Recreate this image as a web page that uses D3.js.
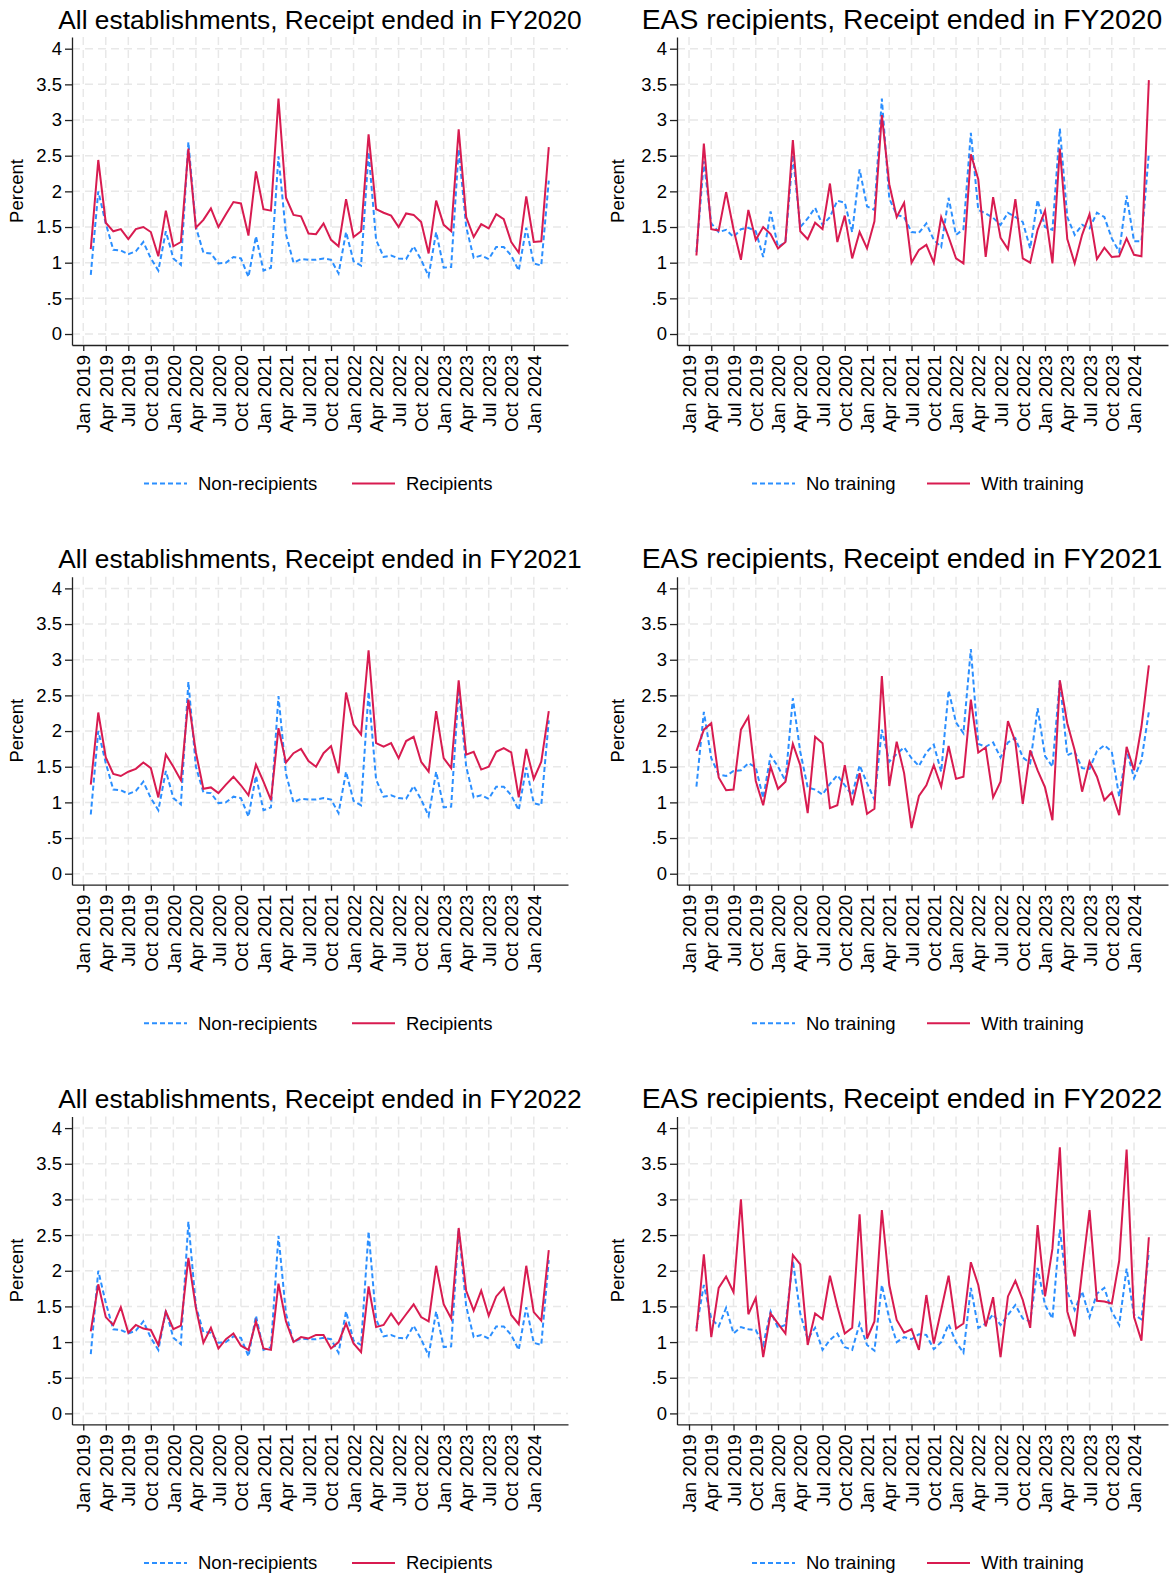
<!DOCTYPE html>
<html>
<head>
<meta charset="utf-8">
<script src="https://cdn.jsdelivr.net/npm/d3@7"></script>
<style>
  body { margin: 0; background: #fff; }
  svg { display: block; font-family: "Liberation Sans", Arial, Helvetica, sans-serif; }
</style>
</head>
<body>
<svg id="chart" width="1170" height="1576"></svg>
<script>
// months are counted from Jan 2019 = 0; data runs Feb 2019 (1) .. Mar 2024 (62)
const monthIndex = d3.range(1, 63);
const xTickMonths = d3.range(0, 61, 3);
const yTicks = [0, 0.5, 1, 1.5, 2, 2.5, 3, 3.5, 4];

// All establishments: non-recipients (same in every FY panel)
const nonRecipients = [0.83, 2.00, 1.55, 1.18, 1.17, 1.12, 1.16, 1.29, 1.06, 0.89, 1.44, 1.06, 0.97, 2.69, 1.50, 1.14,
  1.13, 0.99, 1.00, 1.08, 1.06, 0.80, 1.37, 0.89, 0.93, 2.49, 1.40, 1.00, 1.05, 1.04, 1.04, 1.06,
  1.04, 0.85, 1.43, 1.02, 0.96, 2.55, 1.32, 1.08, 1.10, 1.06, 1.05, 1.23, 1.04, 0.81, 1.43, 0.93,
  0.94, 2.59, 1.50, 1.07, 1.10, 1.05, 1.22, 1.22, 1.10, 0.89, 1.49, 0.99, 0.96, 2.15];

const recipientsFY2020 = [1.19, 2.44, 1.56, 1.44, 1.47, 1.33, 1.47, 1.50, 1.43, 1.09, 1.73, 1.23, 1.29, 2.60, 1.49, 1.60,
  1.76, 1.50, 1.68, 1.85, 1.83, 1.38, 2.28, 1.75, 1.73, 3.30, 1.91, 1.67, 1.65, 1.41, 1.40, 1.55,
  1.32, 1.23, 1.89, 1.36, 1.44, 2.80, 1.75, 1.70, 1.66, 1.50, 1.69, 1.67, 1.57, 1.13, 1.87, 1.53,
  1.44, 2.87, 1.64, 1.36, 1.54, 1.48, 1.68, 1.61, 1.29, 1.14, 1.93, 1.29, 1.30, 2.62];

const recipientsFY2021 = [1.25, 2.26, 1.63, 1.40, 1.37, 1.43, 1.47, 1.56, 1.48, 1.07, 1.67, 1.50, 1.31, 2.44, 1.70, 1.19,
  1.21, 1.13, 1.25, 1.36, 1.24, 1.10, 1.53, 1.29, 1.03, 2.04, 1.56, 1.69, 1.75, 1.58, 1.50, 1.69,
  1.79, 1.41, 2.54, 2.09, 1.95, 3.13, 1.83, 1.78, 1.83, 1.62, 1.86, 1.92, 1.57, 1.43, 2.28, 1.62,
  1.48, 2.71, 1.67, 1.71, 1.46, 1.50, 1.71, 1.76, 1.70, 1.07, 1.75, 1.33, 1.57, 2.28];

const recipientsFY2022 = [1.15, 1.81, 1.35, 1.24, 1.49, 1.13, 1.24, 1.19, 1.17, 0.96, 1.43, 1.18, 1.23, 2.18, 1.48, 0.99,
  1.20, 0.91, 1.04, 1.12, 0.95, 0.89, 1.29, 0.91, 0.89, 1.82, 1.29, 1.00, 1.07, 1.05, 1.10, 1.10,
  0.91, 1.00, 1.26, 0.98, 0.86, 1.78, 1.21, 1.24, 1.40, 1.25, 1.39, 1.53, 1.35, 1.29, 2.07, 1.53,
  1.33, 2.60, 1.72, 1.44, 1.72, 1.37, 1.64, 1.76, 1.38, 1.25, 2.07, 1.42, 1.30, 2.29];

// EAS recipients: without / with training
const noTrainingFY2020 = [1.15, 2.42, 1.55, 1.43, 1.46, 1.36, 1.47, 1.49, 1.44, 1.08, 1.72, 1.22, 1.29, 2.51, 1.50, 1.62,
  1.77, 1.53, 1.64, 1.87, 1.84, 1.43, 2.31, 1.79, 1.74, 3.30, 1.90, 1.67, 1.64, 1.43, 1.42, 1.55,
  1.32, 1.22, 1.91, 1.39, 1.47, 2.82, 1.74, 1.69, 1.63, 1.53, 1.70, 1.64, 1.57, 1.20, 1.88, 1.50,
  1.46, 2.88, 1.64, 1.39, 1.53, 1.48, 1.70, 1.64, 1.34, 1.15, 1.94, 1.30, 1.30, 2.54];

const withTrainingFY2020 = [1.10, 2.67, 1.47, 1.45, 1.99, 1.47, 1.04, 1.74, 1.32, 1.50, 1.40, 1.20, 1.29, 2.72, 1.44, 1.33,
  1.56, 1.47, 2.11, 1.29, 1.66, 1.06, 1.43, 1.20, 1.58, 3.07, 2.10, 1.64, 1.84, 1.00, 1.18, 1.25,
  1.00, 1.64, 1.36, 1.06, 0.99, 2.52, 2.17, 1.08, 1.92, 1.35, 1.19, 1.89, 1.06, 1.00, 1.46, 1.73,
  0.99, 2.60, 1.33, 0.99, 1.39, 1.68, 1.05, 1.21, 1.08, 1.09, 1.34, 1.11, 1.09, 3.56];

const noTrainingFY2021 = [1.22, 2.27, 1.62, 1.39, 1.37, 1.44, 1.45, 1.55, 1.49, 1.06, 1.66, 1.50, 1.30, 2.46, 1.71, 1.21,
  1.18, 1.11, 1.26, 1.38, 1.24, 1.10, 1.52, 1.27, 1.04, 2.02, 1.57, 1.68, 1.77, 1.62, 1.51, 1.70,
  1.81, 1.43, 2.57, 2.12, 1.97, 3.15, 1.82, 1.78, 1.84, 1.63, 1.84, 1.90, 1.63, 1.55, 2.32, 1.65,
  1.50, 2.71, 1.66, 1.71, 1.48, 1.47, 1.72, 1.80, 1.71, 1.08, 1.73, 1.34, 1.59, 2.27];

const withTrainingFY2021 = [1.72, 2.02, 2.11, 1.35, 1.17, 1.18, 2.02, 2.20, 1.30, 0.96, 1.50, 1.19, 1.29, 1.82, 1.52, 0.85,
  1.92, 1.83, 0.92, 0.96, 1.52, 0.96, 1.41, 0.84, 0.91, 2.77, 1.23, 1.85, 1.41, 0.64, 1.09, 1.24,
  1.52, 1.22, 1.79, 1.33, 1.36, 2.44, 1.70, 1.77, 1.07, 1.29, 2.14, 1.85, 0.98, 1.73, 1.45, 1.21,
  0.75, 2.71, 2.11, 1.73, 1.15, 1.57, 1.36, 1.03, 1.14, 0.82, 1.78, 1.45, 2.06, 2.92];

const noTrainingFY2022 = [1.20, 1.80, 1.33, 1.22, 1.48, 1.12, 1.21, 1.18, 1.17, 0.96, 1.43, 1.20, 1.24, 2.14, 1.40, 1.04,
  1.20, 0.89, 1.03, 1.12, 0.93, 0.89, 1.26, 0.96, 0.88, 1.80, 1.33, 1.00, 1.07, 1.04, 1.11, 1.10,
  0.90, 1.00, 1.25, 1.00, 0.85, 1.76, 1.20, 1.26, 1.39, 1.24, 1.38, 1.52, 1.33, 1.29, 2.04, 1.52,
  1.33, 2.58, 1.71, 1.45, 1.71, 1.35, 1.68, 1.76, 1.43, 1.24, 2.03, 1.38, 1.32, 2.27];

const withTrainingFY2022 = [1.15, 2.23, 1.07, 1.76, 1.92, 1.70, 3.00, 1.39, 1.62, 0.79, 1.40, 1.26, 1.12, 2.22, 2.09, 0.96,
  1.40, 1.32, 1.93, 1.50, 1.12, 1.20, 2.79, 1.05, 1.29, 2.85, 1.80, 1.31, 1.13, 1.18, 0.89, 1.66,
  0.98, 1.45, 1.93, 1.19, 1.26, 2.12, 1.80, 1.22, 1.63, 0.79, 1.64, 1.86, 1.59, 1.20, 2.64, 1.64,
  2.31, 3.73, 1.43, 1.08, 1.99, 2.85, 1.58, 1.57, 1.54, 2.14, 3.70, 1.35, 1.02, 2.47];

const panels = [
  { row: 0, col: 0, title: "All establishments, Receipt ended in FY2020", labels: ["Non-recipients", "Recipients"], series: [nonRecipients, recipientsFY2020] },
  { row: 0, col: 1, title: "EAS recipients, Receipt ended in FY2020", labels: ["No training", "With training"], series: [noTrainingFY2020, withTrainingFY2020] },
  { row: 1, col: 0, title: "All establishments, Receipt ended in FY2021", labels: ["Non-recipients", "Recipients"], series: [nonRecipients, recipientsFY2021] },
  { row: 1, col: 1, title: "EAS recipients, Receipt ended in FY2021", labels: ["No training", "With training"], series: [noTrainingFY2021, withTrainingFY2021] },
  { row: 2, col: 0, title: "All establishments, Receipt ended in FY2022", labels: ["Non-recipients", "Recipients"], series: [nonRecipients, recipientsFY2022] },
  { row: 2, col: 1, title: "EAS recipients, Receipt ended in FY2022", labels: ["No training", "With training"], series: [noTrainingFY2022, withTrainingFY2022] }
];

// line styles: dashed blue first, solid red second
const styles = [
  { color: "#2b8fff", dash: "5,3" },
  { color: "#d81b50", dash: null }
];

// layout of the two columns (right-hand titles are drawn a bit larger)
const cols = [
  { left: 72, right: 568, domain: [-1.5, 64.56], titleX: 320, titleSize: 26.3, ylabX: 17, legendX: [144, 352] },
  { left: 677, right: 1168, domain: [-1.62, 64.58], titleX: 902, titleSize: 28.3, ylabX: 618, legendX: [752, 927] }
];
const rowStep = 539.7;
const plotTop = 37, plotBottom = 345;

const svg = d3.select("#chart");
const fmtMonth = d3.utcFormat("%b %Y");
const fmtY = d => d === 0 ? "0" : String(d).replace(/^0\./, ".");

panels.forEach(p => {
  const c = cols[p.col];
  const g = svg.append("g").attr("transform", `translate(0,${p.row * rowStep})`);

  const x = d3.scaleLinear().domain(c.domain).range([c.left, c.right]);
  const y = d3.scaleLinear().domain([-0.154, 4.164]).range([plotBottom, plotTop]);

  // grid
  g.append("g").selectAll("line").data(yTicks).join("line")
    .attr("x1", c.left).attr("x2", c.right)
    .attr("y1", d => y(d)).attr("y2", d => y(d))
    .attr("stroke", "#e8e8e8").attr("stroke-width", 1.5).attr("stroke-dasharray", "8,5");
  g.append("g").selectAll("line").data(xTickMonths).join("line")
    .attr("x1", d => x(d)).attr("x2", d => x(d))
    .attr("y1", plotTop).attr("y2", plotBottom)
    .attr("stroke", "#e8e8e8").attr("stroke-width", 1.5).attr("stroke-dasharray", "8,5");

  // axes
  const yAxis = g.append("g").attr("transform", `translate(${c.left},0)`)
    .call(d3.axisLeft(y).tickValues(yTicks).tickFormat(fmtY).tickSize(7).tickPadding(3).tickSizeOuter(0));
  yAxis.selectAll("text").attr("font-size", 18.5).attr("fill", "#000");

  const xAxis = g.append("g").attr("transform", `translate(0,${plotBottom})`)
    .call(d3.axisBottom(x).tickValues(xTickMonths)
      .tickFormat(m => fmtMonth(new Date(Date.UTC(2019, m, 1))))
      .tickSize(6).tickSizeOuter(0));
  xAxis.selectAll("text")
    .attr("font-size", 19).attr("fill", "#000")
    .attr("transform", "rotate(-90)")
    .attr("x", -10).attr("y", 0).attr("dy", "0.35em")
    .style("text-anchor", "end");

  g.selectAll(".domain, .tick line").attr("stroke", "#222").attr("stroke-width", 1.3);

  // y title
  g.append("text")
    .attr("transform", `translate(${c.ylabX},${(plotTop + plotBottom) / 2}) rotate(-90)`)
    .attr("dy", "0.35em").attr("text-anchor", "middle")
    .attr("font-size", 18.5).text("Percent");

  // panel title
  g.append("text").attr("x", c.titleX).attr("y", 28.5)
    .attr("text-anchor", "middle").attr("font-size", c.titleSize).text(p.title);

  // series
  const line = d3.line().x((d, i) => x(monthIndex[i])).y(d => y(d));
  p.series.forEach((vals, k) => {
    g.append("path").datum(vals)
      .attr("fill", "none")
      .attr("stroke", styles[k].color)
      .attr("stroke-width", 2)
      .attr("stroke-dasharray", styles[k].dash)
      .attr("d", line);
  });

  // legend
  const ly = 483.5;
  p.labels.forEach((lab, k) => {
    const lx = c.legendX[k];
    g.append("line").attr("x1", lx).attr("x2", lx + 43).attr("y1", ly).attr("y2", ly)
      .attr("stroke", styles[k].color).attr("stroke-width", 2)
      .attr("stroke-dasharray", styles[k].dash);
    g.append("text").attr("x", lx + 54).attr("y", ly).attr("dy", "0.35em")
      .attr("font-size", 18.5).text(lab);
  });
});
</script>
</body>
</html>
